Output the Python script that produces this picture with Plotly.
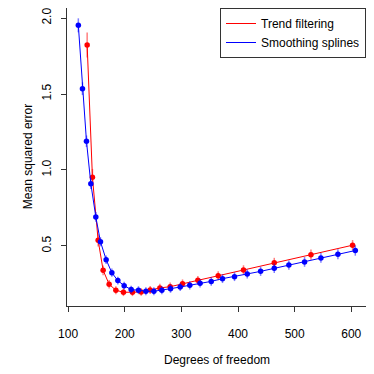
import plotly.graph_objects as go

# Trend filtering: degrees of freedom, MSE, standard error
tf_df = [133.6, 142.9, 153.0, 161.8, 172.4, 184.3, 197.7, 213.6, 229.0, 244.9,
         262.0, 280.2, 302.0, 329.1, 365.0, 409.7, 464.0, 528.8, 602.3]
tf_mse = [1.822, 0.952, 0.537, 0.340, 0.248, 0.209, 0.195, 0.195, 0.197, 0.210,
          0.224, 0.232, 0.252, 0.274, 0.304, 0.342, 0.390, 0.443, 0.505]
tf_se = [0.082, 0.055, 0.040, 0.032, 0.028, 0.026, 0.025, 0.025, 0.025, 0.026,
         0.027, 0.027, 0.028, 0.029, 0.030, 0.031, 0.032, 0.033, 0.034]

# Smoothing splines
ss_df = [118.0, 125.3, 132.4, 140.1, 148.9, 157.1, 167.1, 177.2, 187.8, 198.9,
         211.3, 224.2, 237.3, 251.4, 265.5, 280.8, 297.9, 314.8, 333.0, 352.7,
         372.6, 393.8, 416.3, 439.9, 464.0, 489.8, 517.5, 546.4, 576.4, 607.1]
ss_mse = [1.952, 1.535, 1.189, 0.910, 0.691, 0.528, 0.410, 0.324, 0.272, 0.239,
          0.213, 0.209, 0.202, 0.202, 0.209, 0.219, 0.230, 0.241, 0.254, 0.267,
          0.285, 0.298, 0.316, 0.333, 0.353, 0.374, 0.395, 0.421, 0.445, 0.470]
ss_se = [0.046, 0.042, 0.038, 0.035, 0.032, 0.030, 0.028, 0.027, 0.026, 0.026,
         0.026, 0.026, 0.026, 0.026, 0.026, 0.027, 0.027, 0.027, 0.028, 0.028,
         0.029, 0.029, 0.030, 0.030, 0.031, 0.031, 0.032, 0.032, 0.033, 0.034]

FONT = "Liberation Sans, Arial, Helvetica, sans-serif"
series = [("Trend filtering", tf_df, tf_mse, tf_se, "#ff0000", "rgba(255,0,0,0.5)"),
          ("Smoothing splines", ss_df, ss_mse, ss_se, "#0000ff", "rgba(0,0,255,0.5)")]

fig = go.Figure()
for name, x, y, se, col, ecol in series:
    fig.add_trace(go.Scatter(
        x=x, y=y, mode="lines+markers", showlegend=False,
        line=dict(color=col, width=1), marker=dict(color=col, size=5.5),
        error_y=dict(type="data", array=se, color=ecol, thickness=1.5, width=0)))
for name, x, y, se, col, ecol in series:
    fig.add_trace(go.Scatter(x=[None], y=[None], mode="lines", name=name,
                             line=dict(color=col, width=1)))

axis = dict(showline=True, linecolor="#333333", linewidth=1, mirror=True,
            ticks="outside", ticklen=5, tickcolor="#333333", showgrid=False,
            zeroline=False, automargin=False, ticklabeloverflow="allow",
            tickfont=dict(size=12, color="black"))
fig.update_xaxes(**axis, range=[98, 626], tickvals=[100, 200, 300, 400, 500, 600],
                 ticklabelstandoff=12)
fig.update_yaxes(**axis, range=[0.105, 2.066], tickvals=[0.5, 1.0, 1.5, 2.0],
                 ticktext=["0.5", "1.0", "1.5", "2.0"], tickangle=-90,
                 ticklabelstandoff=5)
# the page body adds an 8 px offset, so margins are shifted to compensate
fig.add_annotation(text="Degrees of freedom", xref="paper", yref="paper",
                   x=0.5, y=-0.18, yanchor="middle", showarrow=False, font=dict(size=12))
fig.add_annotation(text="Mean squared error", xref="paper", yref="paper",
                   x=-0.13, y=0.5, xanchor="center", textangle=-90,
                   showarrow=False, font=dict(size=12))
fig.update_layout(
    width=374, height=374, plot_bgcolor="white", paper_bgcolor="white",
    margin=dict(l=59, r=16, t=0, b=76),
    font=dict(family=FONT, size=12, color="black"),
    legend=dict(x=1, y=1, xanchor="right", yanchor="top", bordercolor="#333333",
                borderwidth=1, bgcolor="white", font=dict(size=12),
                tracegroupgap=0, itemwidth=30),
)
fig.write_html("out.html")
